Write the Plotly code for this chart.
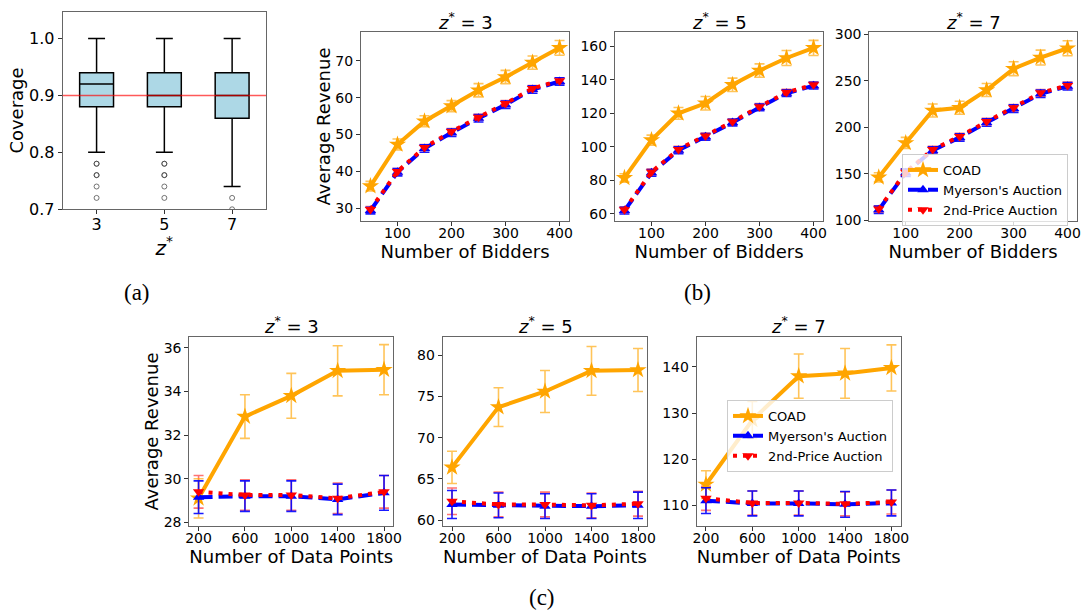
import plotly.graph_objects as go

W, H = 1081, 612

# ---------------- data ----------------
z_cats = ["3", "5", "7"]
box_q1 = [0.88, 0.88, 0.86]
box_med = [0.92, 0.90, 0.90]
box_q3 = [0.94, 0.94, 0.94]
box_lo = [0.80, 0.80, 0.74]
box_hi = [1.00, 1.00, 1.00]
out_x = ["3", "3", "3", "3", "3", "3", "5", "5", "5", "5", "5", "5", "7", "7"]
out_y = [0.78, 0.78, 0.76, 0.76, 0.74, 0.72, 0.78, 0.78, 0.76, 0.76, 0.74, 0.72, 0.72, 0.70]

bidders = [50, 100, 150, 200, 250, 300, 350, 400]
# z* = 3
b3_coad = [36.0, 47.3, 53.6, 57.7, 62.0, 65.6, 69.5, 73.5]
b3_coad_err = [1.3, 1.5, 1.5, 1.5, 1.8, 1.8, 1.8, 2.0]
b3_mye = [29.4, 39.8, 46.2, 50.5, 54.4, 58.1, 62.2, 64.4]
b3_mye_err = [0.9, 1.0, 1.0, 1.0, 1.0, 1.0, 1.0, 1.0]
b3_snd = [29.7, 40.0, 46.5, 50.8, 54.7, 58.4, 62.5, 64.6]
b3_snd_err = [0.8, 0.8, 0.8, 0.8, 0.8, 0.8, 0.8, 0.8]
# z* = 5
b5_coad = [81.5, 104.0, 120.0, 126.0, 137.0, 145.5, 153.0, 159.0]
b5_coad_err = [2.5, 3.0, 3.5, 4.0, 4.0, 4.0, 4.5, 4.5]
b5_mye = [62.0, 84.5, 98.0, 106.0, 114.5, 123.5, 132.0, 136.5]
b5_mye_err = [2.0, 2.0, 2.0, 2.0, 2.0, 2.0, 2.0, 2.0]
b5_snd = [62.5, 85.0, 98.5, 106.5, 115.0, 124.0, 132.5, 137.0]
b5_snd_err = [1.8, 1.8, 1.8, 1.8, 1.8, 1.8, 1.8, 1.8]
# z* = 7
b7_coad = [146.0, 183.0, 218.0, 221.0, 240.0, 263.0, 275.0, 285.0]
b7_coad_err = [5.0, 6.0, 7.0, 7.0, 7.0, 7.5, 8.0, 8.0]
b7_mye = [111.0, 151.0, 175.0, 189.0, 205.0, 220.0, 236.0, 244.0]
b7_mye_err = [4.0, 4.0, 4.0, 4.0, 4.0, 4.0, 4.0, 4.0]
b7_snd = [112.0, 151.5, 176.0, 190.0, 206.0, 221.0, 237.0, 245.0]
b7_snd_err = [3.5, 3.5, 3.5, 3.5, 3.5, 3.5, 3.5, 3.5]

points = [200, 600, 1000, 1400, 1800]
# z* = 3
c3_coad = [29.1, 32.85, 33.8, 34.95, 35.0]
c3_coad_err = [0.9, 1.0, 1.03, 1.15, 1.15]
c3_mye = [29.15, 29.2, 29.2, 29.05, 29.35]
c3_mye_err = [0.75, 0.7, 0.7, 0.7, 0.8]
c3_snd = [29.4, 29.25, 29.25, 29.1, 29.4]
c3_snd_err = [0.75, 0.7, 0.7, 0.7, 0.75]
# z* = 5
c5_coad = [66.4, 73.7, 75.6, 78.1, 78.2]
c5_coad_err = [1.95, 2.35, 2.55, 2.95, 2.6]
c5_mye = [61.9, 61.8, 61.7, 61.7, 61.8]
c5_mye_err = [1.7, 1.5, 1.5, 1.5, 1.6]
c5_snd = [62.3, 61.9, 61.9, 61.8, 62.0]
c5_snd_err = [1.6, 1.5, 1.5, 1.5, 1.5]
# z* = 7
c7_coad = [114.5, 128.5, 138.0, 138.6, 139.8]
c7_coad_err = [3.0, 4.0, 4.8, 5.4, 5.0]
c7_mye = [111.0, 110.4, 110.4, 110.2, 110.5]
c7_mye_err = [2.8, 2.7, 2.7, 2.8, 2.8]
c7_snd = [111.5, 110.5, 110.5, 110.3, 110.7]
c7_snd_err = [2.6, 2.6, 2.6, 2.6, 2.6]

names = ["COAD", "Myerson's Auction", "2nd-Price Auction"]

# ---------------- helpers ----------------
def xd(a, b):
    return [a / W, b / W]

def yd(top, bot):
    return [1 - bot / H, 1 - top / H]

FONT = "DejaVu Sans"
ORANGE = "#FFA500"
BLUE = "#0000FF"
RED = "#FF0000"

fig = go.Figure()

# ---- panel (a) ----
fig.add_trace(go.Box(
    x=z_cats, q1=box_q1, median=box_med, q3=box_q3,
    lowerfence=box_lo, upperfence=box_hi,
    fillcolor="#ADD8E6", line=dict(color="black", width=1.5),
    width=0.5, whiskerwidth=0.5, boxpoints=False, showlegend=False,
    xaxis="x", yaxis="y",
))
fig.add_trace(go.Scatter(
    x=out_x, y=out_y, mode="markers", showlegend=False,
    marker=dict(symbol="circle-open", size=5, color="rgba(60,60,60,0.7)",
                line=dict(width=1, color="rgba(60,60,60,0.7)")),
    xaxis="x", yaxis="y",
))

STYLES = [
    dict(color=ORANGE, dash="solid", sym="star", size=13, ecol="rgba(255,165,0,0.65)"),
    dict(color=BLUE, dash="14px,6px", sym="triangle-up", size=10, ecol="rgba(0,0,255,0.9)"),
    dict(color=RED, dash="4px,6px", sym="triangle-down", size=10, ecol="rgba(255,0,0,0.55)"),
]

def add_series(xv, ys, errs, ax, legend=None):
    # red error bars drawn first (beneath the other series), as in the reference
    fig.add_trace(go.Scatter(
        x=xv, y=ys[2], mode="markers", showlegend=False, hoverinfo="skip",
        marker=dict(size=1, opacity=0),
        error_y=dict(type="data", array=errs[2], visible=True, color=STYLES[2]["ecol"],
                     thickness=1.6, width=5),
        xaxis="x" + ax, yaxis="y" + ax,
    ))
    for i, (y, e) in enumerate(zip(ys, errs)):
        s = STYLES[i]
        kw = {}
        if i < 2:
            kw["error_y"] = dict(type="data", array=e, visible=True, color=s["ecol"],
                                 thickness=1.6, width=5)
        fig.add_trace(go.Scatter(
            x=xv, y=y, mode="lines+markers", name=names[i],
            line=dict(color=s["color"], width=4, dash=s["dash"]),
            marker=dict(symbol=s["sym"], size=s["size"], color=s["color"]),
            showlegend=legend is not None, legend=legend if legend else "legend",
            xaxis="x" + ax, yaxis="y" + ax, **kw,
        ))

add_series(bidders, [b3_coad, b3_mye, b3_snd], [b3_coad_err, b3_mye_err, b3_snd_err], "2")
add_series(bidders, [b5_coad, b5_mye, b5_snd], [b5_coad_err, b5_mye_err, b5_snd_err], "3")
add_series(bidders, [b7_coad, b7_mye, b7_snd], [b7_coad_err, b7_mye_err, b7_snd_err], "4", legend="legend")
add_series(points, [c3_coad, c3_mye, c3_snd], [c3_coad_err, c3_mye_err, c3_snd_err], "5")
add_series(points, [c5_coad, c5_mye, c5_snd], [c5_coad_err, c5_mye_err, c5_snd_err], "6")
add_series(points, [c7_coad, c7_mye, c7_snd], [c7_coad_err, c7_mye_err, c7_snd_err], "7", legend="legend2")

# ---------------- axes ----------------
LINE = "#666666"
def axis(domain, rng, tickvals=None, title=None, tsize=14, titlesize=18, standoff=4,
         tls=0, **kw):
    d = dict(domain=domain, range=rng, showline=True, linecolor=LINE, linewidth=1,
             mirror=True, ticks="outside", ticklen=4, tickcolor="#333", showgrid=False,
             zeroline=False, automargin=False, ticklabelstandoff=tls,
             tickfont=dict(family=FONT, size=tsize, color="black"))
    if tickvals is not None:
        d["tickvals"] = tickvals
    if title:
        d["title"] = dict(text=title, standoff=standoff,
                          font=dict(family=FONT, size=titlesize, color="black"))
    d.update(kw)
    return d

BX = [32.5, 417.5]
BXT = [100, 200, 300, 400]
CX = [120, 1880]
CXT = [200, 600, 1000, 1400, 1800]

by = yd(32, 221)
cy = yd(337, 526)
XS = dict(tls=-5, standoff=2)
YS = dict(standoff=0)

layout = dict(
    template="none",
    width=W, height=H, margin=dict(l=0, r=0, t=0, b=0, pad=0),
    paper_bgcolor="white", plot_bgcolor="white",
    font=dict(family=FONT, color="black"),
    xaxis=axis(xd(62.7, 266), [-0.5, 2.5], title="<i>z</i><sup>*</sup>", tsize=16,
               titlesize=20, type="category", anchor="y", tls=-4, standoff=4),
    yaxis=axis(yd(11.7, 209.3), [0.7, 1.047], [0.7, 0.8, 0.9, 1.0], title="Coverage",
               tsize=16, titlesize=18, tickformat=".1f", anchor="x", standoff=0),
    xaxis2=axis(xd(361, 569), BX, BXT, "Number of Bidders", anchor="y2", **XS),
    yaxis2=axis(by, [26.56, 77.8], [30, 40, 50, 60, 70], "Average Revenue", anchor="x2", **YS),
    xaxis3=axis(xd(615, 823), BX, BXT, "Number of Bidders", anchor="y3", **XS),
    yaxis3=axis(by, [55.8, 168.5], [60, 80, 100, 120, 140, 160], anchor="x3"),
    xaxis4=axis(xd(869.3, 1077), BX, BXT, "Number of Bidders", anchor="y4", **XS),
    yaxis4=axis(by, [99, 302.5], [100, 150, 200, 250, 300], anchor="x4"),
    xaxis5=axis(xd(189.3, 393.3), CX, CXT, "Number of Data Points", anchor="y5", **XS),
    yaxis5=axis(cy, [27.83, 36.5], [28, 30, 32, 34, 36], "Average Revenue", anchor="x5", **YS),
    xaxis6=axis(xd(442.7, 647.3), CX, CXT, "Number of Data Points", anchor="y6", **XS),
    yaxis6=axis(cy, [59.3, 82.2], [60, 65, 70, 75, 80], anchor="x6"),
    xaxis7=axis(xd(696.7, 900.7), CX, CXT, "Number of Data Points", anchor="y7", **XS),
    yaxis7=axis(cy, [105.5, 146.5], [110, 120, 130, 140], anchor="x7"),
    legend=dict(x=902 / W, y=1 - 154 / H, xanchor="left", yanchor="top",
                bgcolor="rgba(255,255,255,0.8)", bordercolor="#cccccc", borderwidth=1,
                font=dict(family=FONT, size=13, color="black"), tracegroupgap=0),
    legend2=dict(x=727 / W, y=1 - 400 / H, xanchor="left", yanchor="top",
                 bgcolor="rgba(255,255,255,0.8)", bordercolor="#cccccc", borderwidth=1,
                 font=dict(family=FONT, size=13, color="black"), tracegroupgap=0),
    shapes=[dict(type="line", xref="x domain", yref="y", x0=0, x1=1, y0=0.9, y1=0.9,
                 line=dict(color="rgba(255,0,0,0.65)", width=1.5), layer="above")],
)

annotations = []
titles = [("3", (361 + 569) / 2, 21), ("5", (615 + 823) / 2, 21), ("7", (869.3 + 1077) / 2, 21),
          ("3", (189.3 + 393.3) / 2, 325), ("5", (442.7 + 647.3) / 2, 325), ("7", (696.7 + 900.7) / 2, 325)]
for z, cx, cyy in titles:
    annotations.append(dict(text=f"<i>z</i><sup>*</sup> = {z}", x=cx / W, y=1 - cyy / H,
                            xref="paper", yref="paper", xanchor="center", yanchor="middle",
                            showarrow=False, font=dict(family=FONT, size=18, color="black")))
for lab, cx, cyy in [("(a)", 137, 292), ("(b)", 697, 292), ("(c)", 542, 597)]:
    annotations.append(dict(text=lab, x=cx / W, y=1 - cyy / H, xref="paper", yref="paper",
                            xanchor="center", yanchor="middle", showarrow=False,
                            font=dict(family="Liberation Serif", size=23, color="black")))
layout["annotations"] = annotations

fig.update_layout(**layout)
fig.write_html("out.html", config={"displayModeBar": False},
               post_script="document.body.style.margin='0';document.body.style.overflow='hidden';")
